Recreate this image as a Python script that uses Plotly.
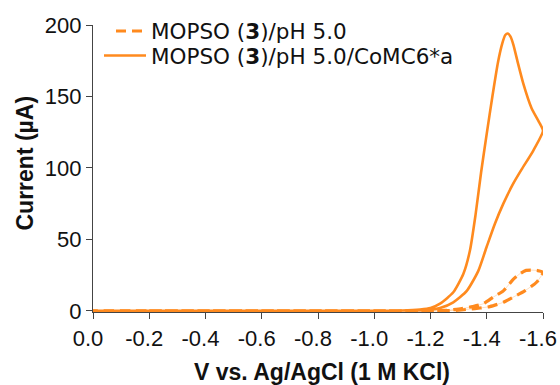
import plotly.graph_objects as go

# ---- data ----
# MOPSO (3)/pH 5.0 (dashed): forward scan then return scan
v_mopso = [0.0, -0.2, -0.4, -0.6, -0.8, -1.0, -1.2, -1.25, -1.30, -1.35, -1.388, -1.423, -1.459,
           -1.494, -1.518, -1.54, -1.56, -1.58, -1.6,
           -1.577, -1.535, -1.494, -1.459, -1.411, -1.376, -1.34, -1.30, -1.25, -1.2, -1.0,
           -0.8, -0.6, -0.4, -0.2, 0.0]
i_mopso = [0, 0, 0, 0, 0, 0, 0, 0.3, 1.2, 3, 5, 9.6, 14,
           22, 26, 28.3, 28.5, 28.2, 27,
           20, 14, 9.6, 6, 3, 2, 1.2, 0.5, 0.1, 0, 0,
           0, 0, 0, 0, 0]

# MOPSO (3)/pH 5.0/CoMC6*a (solid): forward scan then return scan
v_co = [0.0, -0.2, -0.4, -0.6, -0.8, -1.0, -1.1, -1.163, -1.2, -1.234, -1.281, -1.317, -1.34,
        -1.36, -1.38, -1.40, -1.42, -1.44, -1.455, -1.466, -1.475, -1.484,
        -1.495, -1.51, -1.53, -1.559, -1.589, -1.6,
        -1.565, -1.524, -1.494, -1.459, -1.429, -1.4, -1.37, -1.329, -1.281, -1.234, -1.187,
        -1.1, -1.0, -0.8, -0.6, -0.4, -0.2, 0.0]
i_co = [0, 0, 0, 0, 0, 0, 0.3, 1, 2, 5, 13, 26, 42,
        67, 97, 124, 150, 174, 187, 193, 194, 192,
        186, 174, 159, 142, 131, 126,
        112, 99, 89, 75, 61, 45, 28, 14, 6, 2, 0.7,
        0.2, 0, 0, 0, 0, 0, 0]

x_ticks = [0.0, -0.2, -0.4, -0.6, -0.8, -1.0, -1.2, -1.4, -1.6]
x_ticklabels = ["0.0", "-0.2", "-0.4", "-0.6", "-0.8", "-1.0", "-1.2", "-1.4", "-1.6"]
y_ticks = [0, 50, 100, 150, 200]

names = ["MOPSO (<b>3</b>)/pH 5.0", "MOPSO (<b>3</b>)/pH 5.0/CoMC6*a"]
x_title = "<b>V vs. Ag/AgCl (1 M KCl)</b>"
y_title = "<b>Current (µA)</b>"

ORANGE = "#FF8A1E"
LEGFONT = "DejaVu Sans, Verdana, sans-serif"
FONT = "Liberation Sans, Arial, sans-serif"
W, H = 560, 385
L, R, T, B = 93, 17, 25, 73
plot_w = W - L - R
plot_h = H - T - B


def px_x(p):
    return (p - L) / plot_w


def px_y(p):
    return ((H - B) - p) / plot_h


fig = go.Figure()
# faint thin line joining the dashes of the dashed trace
fig.add_trace(go.Scatter(x=v_mopso, y=i_mopso, mode="lines", showlegend=False,
                         line=dict(color="rgba(255,138,30,0.35)", width=0.8, shape="spline",
                                   smoothing=0.6),
                         hoverinfo="skip"))
fig.add_trace(go.Scatter(x=v_mopso, y=i_mopso, mode="lines", name=names[0], legend="legend",
                         line=dict(color=ORANGE, width=3.2, dash="10px,6px", shape="spline",
                                   smoothing=0.6)))
fig.add_trace(go.Scatter(x=v_co, y=i_co, mode="lines", name=names[1], legend="legend2",
                         line=dict(color=ORANGE, width=2.6, shape="spline", smoothing=0.6)))

axis_common = dict(showgrid=False, zeroline=False, showline=True, linecolor="#444444",
                   linewidth=1.4, ticks="outside", ticklen=6, tickwidth=1.4,
                   tickcolor="#444444", automargin=False, ticklabeloverflow="allow",
                   tickfont=dict(family=FONT, size=22, color="#111"))

legend_common = dict(xanchor="left", yanchor="middle",
                     bgcolor="rgba(0,0,0,0)", borderwidth=0,
                     font=dict(family=LEGFONT, size=21.5, color="#111"))

fig.update_layout(
    width=W, height=H,
    margin=dict(l=L, r=R, t=T, b=B, pad=0, autoexpand=False),
    paper_bgcolor="white", plot_bgcolor="white",
    font=dict(family=FONT, color="#111"),
    showlegend=True,
    legend=dict(x=px_x(111), y=px_y(31), itemwidth=30, **legend_common),
    legend2=dict(x=px_x(99), y=px_y(55.5), itemwidth=42, **legend_common),
    xaxis=dict(range=[0, -1.6], tickvals=x_ticks, ticktext=x_ticklabels,
               ticklabelshift=5, **axis_common),
    yaxis=dict(range=[-0.8, 200], tickvals=y_ticks, **axis_common),
    annotations=[
        dict(text=x_title, xref="paper", yref="paper",
             x=px_x(322), y=px_y(371.5),
             xanchor="center", yanchor="middle", showarrow=False,
             font=dict(family=FONT, size=23, color="#111")),
        dict(text=y_title, xref="paper", yref="paper",
             x=px_x(24), y=px_y(163.5), textangle=-90,
             xanchor="center", yanchor="middle", showarrow=False,
             font=dict(family=FONT, size=23, color="#111")),
    ],
)

fig.write_html("out.html")
